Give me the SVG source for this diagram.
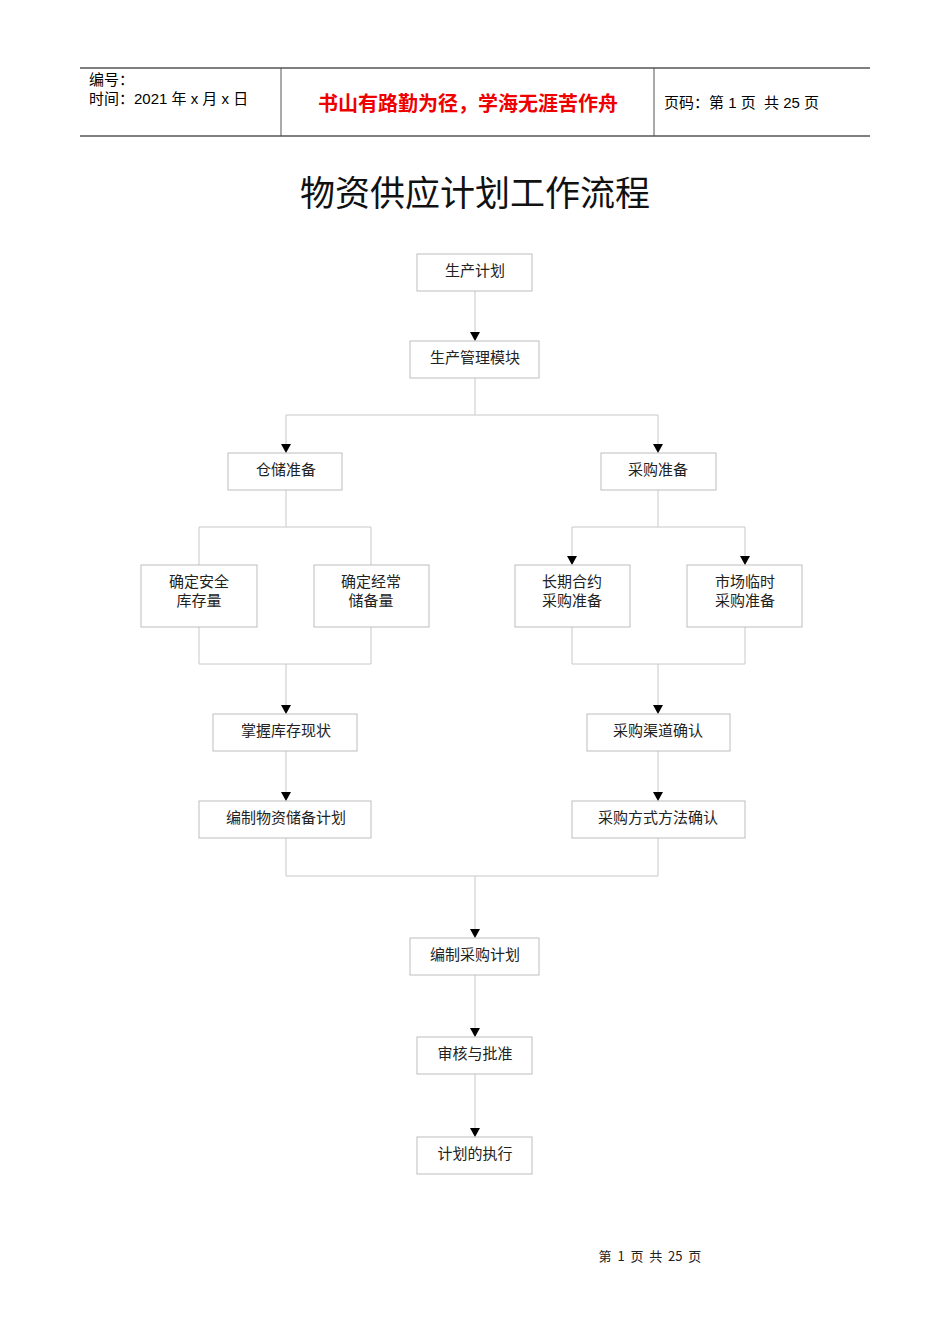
<svg xmlns="http://www.w3.org/2000/svg" width="950" height="1344" viewBox="0 0 950 1344">
<style>
.b{fill:#fff;stroke:#bdbdbd;stroke-width:1}
.t{font-family:"Noto Sans CJK SC","Liberation Serif",serif;font-size:15px;fill:#222;text-anchor:middle}
.c line,.c path{stroke:#c8c8c8;stroke-width:1;fill:none}
.h{font-family:"Liberation Sans","Noto Sans CJK SC",sans-serif;font-size:15px;fill:#000}
</style>
<defs><marker id="a" markerWidth="10" markerHeight="10" refX="9" refY="5" orient="auto" markerUnits="userSpaceOnUse"><path d="M0,0 L9,5 L0,10 z" fill="#000"/></marker></defs>
<rect width="950" height="1344" fill="#fff"/>
<g id="header">
<line x1="80" y1="68" x2="870" y2="68" stroke="#555" stroke-width="1.5"/>
<line x1="80" y1="136" x2="870" y2="136" stroke="#555" stroke-width="1.5"/>
<line x1="281" y1="68" x2="281" y2="136" stroke="#555"/>
<line x1="654" y1="68" x2="654" y2="136" stroke="#555"/>
<text class="h" x="89" y="85">编号：</text>
<text class="h" x="89" y="104">时间：2021 年 x 月 x 日</text>
<text x="468" y="111" font-family="Noto Sans CJK SC,sans-serif" font-size="20" font-weight="bold" fill="#e00" text-anchor="middle">书山有路勤为径，学海无涯苦作舟</text>
<text class="h" x="664" y="108" xml:space="preserve">页码：第 1 页  共 25 页</text>
</g>
<text x="475" y="206" font-family="Noto Sans CJK SC,serif" font-size="35" fill="#111" text-anchor="middle">物资供应计划工作流程</text>
<g class="c">
<line x1="475" y1="291" x2="475" y2="341" marker-end="url(#a)"/>
<path d="M475,378V415M286,415H658"/>
<line x1="286" y1="415" x2="286" y2="453" marker-end="url(#a)"/>
<line x1="658" y1="415" x2="658" y2="453" marker-end="url(#a)"/>
<path d="M286,490V527M199,527H371M199,527V565M371,527V565"/>
<path d="M658,490V527M572,527H745"/>
<line x1="572" y1="527" x2="572" y2="565" marker-end="url(#a)"/>
<line x1="745" y1="527" x2="745" y2="565" marker-end="url(#a)"/>
<path d="M199,627V664M371,627V664M199,664H371"/>
<line x1="286" y1="664" x2="286" y2="714" marker-end="url(#a)"/>
<path d="M572,627V664M745,627V664M572,664H745"/>
<line x1="658" y1="664" x2="658" y2="714" marker-end="url(#a)"/>
<line x1="286" y1="751" x2="286" y2="801" marker-end="url(#a)"/>
<line x1="658" y1="751" x2="658" y2="801" marker-end="url(#a)"/>
<path d="M286,838V876M658,838V876M286,876H658"/>
<line x1="475" y1="876" x2="475" y2="938" marker-end="url(#a)"/>
<line x1="475" y1="975" x2="475" y2="1037" marker-end="url(#a)"/>
<line x1="475" y1="1074" x2="475" y2="1137" marker-end="url(#a)"/>
</g>
<g id="n1"><rect class="b" x="417" y="254" width="115" height="37"/><text class="t" x="475" y="276">生产计划</text></g>
<g id="n2"><rect class="b" x="410" y="341" width="129" height="37"/><text class="t" x="475" y="363">生产管理模块</text></g>
<g id="n3"><rect class="b" x="228" y="453" width="114" height="37"/><text class="t" x="286" y="475">仓储准备</text></g>
<g id="n4"><rect class="b" x="601" y="453" width="115" height="37"/><text class="t" x="658" y="475">采购准备</text></g>
<g id="n5"><rect class="b" x="141" y="565" width="116" height="62"/><text class="t" x="199" y="587">确定安全</text><text class="t" x="199" y="606">库存量</text></g>
<g id="n6"><rect class="b" x="314" y="565" width="115" height="62"/><text class="t" x="371" y="587">确定经常</text><text class="t" x="371" y="606">储备量</text></g>
<g id="n7"><rect class="b" x="515" y="565" width="115" height="62"/><text class="t" x="572" y="587">长期合约</text><text class="t" x="572" y="606">采购准备</text></g>
<g id="n8"><rect class="b" x="687" y="565" width="115" height="62"/><text class="t" x="745" y="587">市场临时</text><text class="t" x="745" y="606">采购准备</text></g>
<g id="n9"><rect class="b" x="213" y="714" width="144" height="37"/><text class="t" x="286" y="736">掌握库存现状</text></g>
<g id="n10"><rect class="b" x="587" y="714" width="143" height="37"/><text class="t" x="658" y="736">采购渠道确认</text></g>
<g id="n11"><rect class="b" x="199" y="801" width="172" height="37"/><text class="t" x="286" y="823">编制物资储备计划</text></g>
<g id="n12"><rect class="b" x="572" y="801" width="173" height="37"/><text class="t" x="658" y="823">采购方式方法确认</text></g>
<g id="n13"><rect class="b" x="410" y="938" width="129" height="37"/><text class="t" x="475" y="960">编制采购计划</text></g>
<g id="n14"><rect class="b" x="417" y="1037" width="115" height="37"/><text class="t" x="475" y="1059">审核与批准</text></g>
<g id="n15"><rect class="b" x="417" y="1137" width="115" height="37"/><text class="t" x="475" y="1159">计划的执行</text></g>
<text x="650" y="1261" font-family="Noto Sans CJK SC,serif" font-size="13" fill="#222" text-anchor="middle" xml:space="preserve">第  1  页  共  25  页</text>
</svg>
